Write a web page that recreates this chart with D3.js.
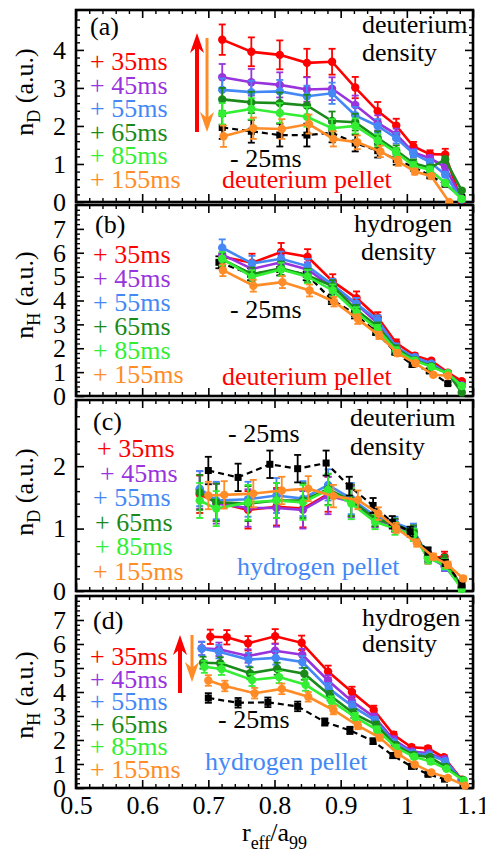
<!DOCTYPE html>
<html><head><meta charset="utf-8">
<script src="https://cdn.jsdelivr.net/npm/d3@7"></script>
<style>
body{margin:0;background:#fff}
</style>
</head><body>
<svg id="chart" width="485" height="857"></svg>
<script>
// ---------------- DATA ----------------
const seriesKeys   = ["m25","35","45","55","65","85","155"];
const legendLabels = ["+ 35ms","+ 45ms","+ 55ms","+ 65ms","+ 85ms","+ 155ms"];
const xTickLabels  = [0.5,0.6,0.7,0.8,0.9,1.0,1.1];

// Panel (a): deuterium density, deuterium pellet
const a_x   = [0.721,0.765,0.808,0.849,0.887,0.922,0.956,0.984,1.010,1.035,1.058,1.083];
const a_xOr = [0.723,0.768,0.811,0.852,0.889,0.925,0.960,0.987,1.012,1.037,1.064];
const a_m25 = [1.96,1.86,1.76,1.76,1.82,1.55,1.35,1.12,0.92,0.70,0.47,0.12];
const a_m25e= [0.30,0.30,0.30,0.30,0.25,0.22,0.18,0.14,0.10,0.08,0.06,0.04];
const a_35  = [4.27,3.95,3.87,3.66,3.69,3.01,2.39,2.01,1.46,1.26,1.25,0.00];
const a_35e = [0.40,0.38,0.38,0.37,0.34,0.28,0.24,0.18,0.12,0.10,0.15,0.04];
const a_45  = [3.28,3.15,3.08,2.96,2.98,2.55,2.08,1.78,1.30,1.15,0.92,0.08];
const a_45e = [0.35,0.35,0.33,0.32,0.30,0.25,0.20,0.15,0.10,0.08,0.08,0.04];
const a_55  = [2.95,2.89,2.91,2.78,2.86,2.28,2.00,1.68,1.27,1.05,0.72,0.06];
const a_55e = [0.30,0.30,0.30,0.28,0.28,0.22,0.18,0.14,0.10,0.08,0.07,0.04];
const a_65  = [2.70,2.62,2.60,2.54,2.13,2.10,1.68,1.35,1.02,0.90,1.12,0.30];
const a_65e = [0.30,0.28,0.28,0.28,0.25,0.22,0.18,0.14,0.10,0.08,0.08,0.04];
const a_85  = [2.32,2.45,2.34,2.24,1.94,2.00,1.62,1.30,0.95,0.85,0.50,0.08];
const a_85e = [0.28,0.28,0.26,0.26,0.24,0.20,0.16,0.12,0.10,0.08,0.06,0.04];
const a_155 = [1.73,1.94,1.92,2.05,1.66,1.57,1.33,1.07,0.80,0.68,0.00];
const a_155e= [0.28,0.28,0.26,0.25,0.20,0.18,0.15,0.12,0.08,0.06,0.03];

// Panel (b): hydrogen density, deuterium pellet
const b_x   = [0.721,0.766,0.810,0.850,0.888,0.924,0.956,0.984,1.012,1.037,1.062,1.083];
const b_xOr = [0.722,0.768,0.812,0.853,0.890,0.926,0.958,0.986,1.013,1.040,1.062];
const b_xBk = [0.716,0.764,0.808,0.848,0.886,0.921,0.953,0.982,1.008,1.034,1.062];
const b_m25 = [5.60,5.10,5.30,5.10,4.05,3.45,2.70,1.85,1.32,1.05,0.52];
const b_m25e= [0.25,0.25,0.25,0.25,0.20,0.20,0.15,0.12,0.10,0.08,0.06];
const b_35  = [5.83,5.58,6.03,5.83,4.80,4.10,3.29,2.22,1.69,1.48,0.98,0.62];
const b_35e = [0.35,0.38,0.38,0.32,0.30,0.28,0.22,0.15,0.10,0.08,0.06,0.05];
const b_45  = [5.92,5.32,5.60,5.30,4.55,3.85,3.05,2.02,1.60,1.35,0.95,0.45];
const b_45e = [0.30,0.30,0.30,0.30,0.25,0.25,0.20,0.15,0.10,0.08,0.06,0.05];
const b_55  = [6.21,5.55,5.75,5.44,4.66,3.86,3.18,2.05,1.62,1.35,0.92,0.42];
const b_55e = [0.35,0.32,0.30,0.30,0.25,0.25,0.20,0.15,0.10,0.08,0.06,0.05];
const b_65  = [5.72,5.10,5.35,5.05,4.60,3.60,2.90,1.98,1.50,1.25,0.95,0.15];
const b_65e = [0.28,0.28,0.28,0.28,0.25,0.22,0.18,0.14,0.10,0.08,0.06,0.05];
const b_85  = [5.75,4.99,5.30,5.00,4.42,3.50,2.80,1.90,1.48,1.22,0.95,0.42];
const b_85e = [0.28,0.28,0.28,0.28,0.25,0.22,0.18,0.14,0.10,0.08,0.06,0.05];
const b_155 = [5.27,4.62,4.77,4.42,3.95,3.22,2.54,1.79,1.37,0.89,0.85];
const b_155e= [0.25,0.25,0.25,0.25,0.20,0.20,0.15,0.12,0.10,0.08,0.06];

// Panel (c): deuterium density, hydrogen pellet
const c_x   = [0.687,0.712,0.760,0.803,0.843,0.881,0.916,0.952,0.982,1.010,1.032,1.057,1.083];
const c_xOr = [0.700,0.724,0.768,0.811,0.851,0.889,0.926,0.957,0.984,1.015,1.040,1.062,1.085];
const c_xBk = [0.700,0.745,0.793,0.835,0.878,0.913,0.949,0.978,1.005,1.032,1.058,1.083];
const c_m25 = [1.93,1.82,2.03,1.96,2.05,1.68,1.37,1.10,0.95,0.64,0.45,0.10];
const c_m25e= [0.22,0.22,0.22,0.22,0.20,0.15,0.12,0.10,0.08,0.06,0.05,0.04];
const c_35  = [1.55,1.42,1.30,1.35,1.32,1.55,1.45,1.15,1.05,0.95,0.52,0.55,0.05];
const c_35e = [0.30,0.30,0.30,0.30,0.30,0.28,0.25,0.12,0.10,0.10,0.08,0.08,0.04];
const c_45  = [1.62,1.40,1.33,1.33,1.30,1.53,1.43,1.14,1.05,0.93,0.55,0.40,0.06];
const c_45e = [0.30,0.32,0.30,0.30,0.30,0.30,0.25,0.12,0.10,0.10,0.08,0.08,0.04];
const c_55  = [1.64,1.45,1.47,1.53,1.48,1.70,1.48,1.20,1.09,0.98,0.55,0.41,0.08];
const c_55e = [0.28,0.30,0.28,0.28,0.28,0.25,0.25,0.12,0.10,0.10,0.08,0.08,0.04];
const c_65  = [1.58,1.42,1.40,1.45,1.45,1.63,1.45,1.16,1.06,0.95,0.55,0.50,0.06];
const c_65e = [0.28,0.30,0.28,0.28,0.28,0.25,0.25,0.12,0.10,0.10,0.08,0.08,0.04];
const c_85  = [1.45,1.32,1.42,1.45,1.42,1.62,1.40,1.11,1.00,0.90,0.52,0.43,0.03];
const c_85e = [0.28,0.28,0.28,0.28,0.28,0.25,0.25,0.12,0.10,0.10,0.08,0.08,0.04];
const c_155 = [1.53,1.54,1.56,1.61,1.64,1.52,1.46,1.24,1.01,0.77,0.55,0.42,0.20];
const c_155e= [0.22,0.22,0.22,0.22,0.20,0.18,0.15,0.10,0.08,0.06,0.05,0.05,0.04];

// Panel (d): hydrogen density, hydrogen pellet
const d_xR  = [0.703,0.728,0.760,0.801,0.841,0.881,0.917,0.950,0.980,1.007,1.032,1.056,1.083];
const d_xP  = [0.690,0.716,0.760,0.801,0.842,0.881,0.917,0.951,0.980,1.008,1.033,1.057,1.083];
const d_xB  = [0.690,0.716,0.761,0.802,0.842,0.882,0.918,0.952,0.981,1.009,1.034,1.058,1.084];
const d_xG  = [0.692,0.718,0.763,0.804,0.845,0.884,0.920,0.954,0.983,1.010,1.035,1.059,1.085];
const d_xL  = [0.694,0.720,0.766,0.807,0.847,0.886,0.922,0.955,0.984,1.011,1.036,1.060,1.086];
const d_xOr = [0.700,0.725,0.770,0.811,0.851,0.889,0.926,0.959,0.987,1.012,1.037,1.062,1.088];
const d_xBk = [0.700,0.745,0.790,0.835,0.876,0.914,0.949,0.979,1.007,1.032,1.057];
const d_m25 = [3.75,3.55,3.57,3.40,2.75,2.40,1.95,1.35,0.90,0.57,0.37];
const d_m25e= [0.20,0.20,0.20,0.20,0.15,0.15,0.12,0.10,0.08,0.06,0.05];
const d_35  = [6.30,6.28,6.03,6.32,6.05,4.85,4.00,3.25,2.22,1.70,1.65,1.28,0.35];
const d_35e = [0.30,0.30,0.30,0.30,0.30,0.25,0.22,0.18,0.12,0.10,0.10,0.08,0.05];
const d_45  = [5.82,5.78,5.50,5.72,5.55,4.48,3.62,2.95,2.02,1.52,1.45,1.20,0.32];
const d_45e = [0.28,0.28,0.28,0.28,0.25,0.22,0.20,0.15,0.12,0.10,0.10,0.08,0.05];
const d_55  = [5.80,5.68,5.35,5.42,5.25,4.15,3.40,2.82,1.90,1.45,1.38,1.12,0.30];
const d_55e = [0.28,0.28,0.28,0.28,0.25,0.22,0.20,0.15,0.12,0.10,0.10,0.08,0.05];
const d_65  = [5.22,5.20,4.78,4.97,4.76,3.85,3.10,2.62,1.78,1.38,1.28,0.88,0.34];
const d_65e = [0.25,0.25,0.25,0.25,0.25,0.20,0.18,0.15,0.12,0.10,0.10,0.08,0.05];
const d_85  = [5.05,4.96,4.50,4.62,4.30,3.62,2.95,2.42,1.68,1.30,1.10,0.80,0.30];
const d_85e = [0.25,0.25,0.25,0.25,0.25,0.20,0.18,0.15,0.12,0.10,0.10,0.08,0.05];
const d_155 = [4.48,4.25,3.95,4.13,3.80,3.25,2.60,2.10,1.42,0.98,0.65,0.42,0.10];
const d_155e= [0.22,0.22,0.22,0.22,0.20,0.18,0.15,0.12,0.10,0.08,0.06,0.05,0.04];

// ---------------- STYLE ----------------
const FONT = "Liberation Serif";
const colorOf = {m25:"#000000","35":"#ff0000","45":"#9933dd","55":"#4488f5","65":"#1a8a1a","85":"#33ee33","155":"#ff8c26"};
const legendColors = ["#ff0000","#9933dd","#4488f5","#1a8a1a","#33ee33","#ff8c26"];

const panels = [
  {id:"(a)", top:10, bottom:202, ymax:5.05, majors:[0,1,2,3,4],
   series:[[a_x,a_m25,a_m25e,"m25"],[a_x,a_35,a_35e,"35"],[a_x,a_45,a_45e,"45"],[a_x,a_55,a_55e,"55"],[a_x,a_65,a_65e,"65"],[a_x,a_85,a_85e,"85"],[a_xOr,a_155,a_155e,"155"]],
   ylab:"D", ylabY:92, letter:[90,35], dens:["deuterium",362,33,"density",362,61],
   legX:[90,90,90,90,90,90], legY0:70, legDy:23.6, m25:[230,167], pellet:["deuterium pellet","#ff0000",222,188],
   arrows:[{x:197,y1:132,y2:33,c:"#ff0000",w:4},{x:207,y1:38,y2:132,c:"#ff8c26",w:3}]},
  {id:"(b)", top:205, bottom:396, ymax:8, majors:[0,1,2,3,4,5,6,7],
   series:[[b_xBk,b_m25,b_m25e,"m25"],[b_x,b_35,b_35e,"35"],[b_x,b_45,b_45e,"45"],[b_x,b_55,b_55e,"55"],[b_x,b_65,b_65e,"65"],[b_x,b_85,b_85e,"85"],[b_xOr,b_155,b_155e,"155"]],
   ylab:"H", ylabY:295, letter:[95,233], dens:["hydrogen",354,232,"density",361,260],
   legX:[93,93,93,93,93,93], legY0:263, legDy:24, m25:[230,318], pellet:["deuterium pellet","#ff0000",222,385],
   arrows:[]},
  {id:"(c)", top:400, bottom:591, ymax:3.06, majors:[0,1,2],
   series:[[c_x,c_35,c_35e,"35"],[c_x,c_45,c_45e,"45"],[c_x,c_55,c_55e,"55"],[c_x,c_65,c_65e,"65"],[c_x,c_85,c_85e,"85"],[c_xBk,c_m25,c_m25e,"m25"],[c_xOr,c_155,c_155e,"155"]],
   ylab:"D", ylabY:492, letter:[93,430], dens:["deuterium",350,426,"density",350,455],
   legX:[97,100,93,95,95,93], legY0:457, legDy:24.6, m25:[228,442], pellet:["hydrogen pellet","#4488f5",237,575],
   arrows:[]},
  {id:"(d)", top:596, bottom:788, ymax:8, majors:[0,1,2,3,4,5,6,7],
   series:[[d_xBk,d_m25,d_m25e,"m25"],[d_xR,d_35,d_35e,"35"],[d_xP,d_45,d_45e,"45"],[d_xB,d_55,d_55e,"55"],[d_xG,d_65,d_65e,"65"],[d_xL,d_85,d_85e,"85"],[d_xOr,d_155,d_155e,"155"]],
   ylab:"H", ylabY:695, letter:[93,629], dens:["hydrogen",362,626,"density",362,652],
   legX:[90,90,90,90,90,90], legY0:665, legDy:22.6, m25:[218,728], pellet:["hydrogen pellet","#4488f5",205,770],
   arrows:[{x:180,y1:693,y2:635,c:"#ff0000",w:4},{x:192,y1:635,y2:682,c:"#ff8c26",w:3}]}
];

// ---------------- DRAW ----------------
const svg = d3.select("#chart");
const L = 76, R = 473, FS = 26;
const x = d3.scaleLinear().domain([0.5,1.1]).range([L,R]);

function txt(parent, xx, yy, s, fill) {
  return parent.append("text").attr("x",xx).attr("y",yy)
    .attr("font-family",FONT).attr("font-size",FS).attr("fill",fill || "#000").text(s);
}

panels.forEach((p, pi) => {
  const y = d3.scaleLinear().domain([0,p.ymax]).range([p.bottom,p.top]);
  const g = svg.append("g");
  const minors = d3.range(0, p.ymax, 0.2).filter(v => Math.abs(v - Math.round(v)) > 1e-6);
  const xMinors = d3.range(0.5, 1.1001, 0.02).filter(v => Math.abs(v*10 - Math.round(v*10)) > 1e-6);

  const axisStyle = sel => {
    sel.attr("font-family",FONT).attr("font-size",FS);
    sel.select(".domain").remove();
    sel.selectAll("text").attr("font-family",FONT).attr("font-size",FS).attr("fill","#000");
  };
  g.append("g").attr("transform",`translate(${L},0)`)
    .call(d3.axisLeft(y).tickValues(p.majors).tickSize(-8).tickPadding(10).tickFormat(d3.format("d")))
    .call(axisStyle).selectAll("line").attr("stroke-width",1.6);
  g.append("g").attr("transform",`translate(${L},0)`)
    .call(d3.axisLeft(y).tickValues(minors).tickSize(-4).tickFormat(""))
    .call(axisStyle).selectAll("line").attr("stroke-width",1.4);
  g.append("g").attr("transform",`translate(${R},0)`)
    .call(d3.axisRight(y).tickValues(p.majors).tickSize(-8).tickFormat(""))
    .call(axisStyle).selectAll("line").attr("stroke-width",1.6);
  g.append("g").attr("transform",`translate(${R},0)`)
    .call(d3.axisRight(y).tickValues(minors).tickSize(-4).tickFormat(""))
    .call(axisStyle).selectAll("line").attr("stroke-width",1.4);
  const isLast = pi === panels.length-1;
  g.append("g").attr("transform",`translate(0,${p.bottom})`)
    .call(d3.axisBottom(x).tickValues(xTickLabels).tickSize(-8).tickPadding(8)
      .tickFormat(isLast ? (d => d3.format("~g")(d)) : ""))
    .call(axisStyle).selectAll("line").attr("stroke-width",1.6);
  g.append("g").attr("transform",`translate(0,${p.bottom})`)
    .call(d3.axisBottom(x).tickValues(xMinors).tickSize(-4).tickFormat(""))
    .call(axisStyle).selectAll("line").attr("stroke-width",1.4);
  g.append("g").attr("transform",`translate(0,${p.top})`)
    .call(d3.axisTop(x).tickValues(xTickLabels).tickSize(-8).tickFormat(""))
    .call(axisStyle).selectAll("line").attr("stroke-width",1.6);
  g.append("g").attr("transform",`translate(0,${p.top})`)
    .call(d3.axisTop(x).tickValues(xMinors).tickSize(-4).tickFormat(""))
    .call(axisStyle).selectAll("line").attr("stroke-width",1.4);

  g.append("rect").attr("x",L).attr("y",p.top).attr("width",R-L).attr("height",p.bottom-p.top)
    .attr("fill","none").attr("stroke","#000").attr("stroke-width",2.6);

  const line = d3.line().x(d => x(d[0])).y(d => y(d[1]));
  p.series.forEach(([xs, ys, es, key]) => {
    const col = colorOf[key];
    const pts = xs.map((xv,i) => [xv, ys[i], es[i]]);
    const sg = g.append("g");
    pts.forEach(d => {
      const cx = x(d[0]), y1 = y(d[1]-d[2]), y2 = y(d[1]+d[2]);
      sg.append("line").attr("x1",cx).attr("x2",cx).attr("y1",y1).attr("y2",y2).attr("stroke",col).attr("stroke-width",1.8);
      [y1,y2].forEach(yy => sg.append("line").attr("x1",cx-3.5).attr("x2",cx+3.5).attr("y1",yy).attr("y2",yy).attr("stroke",col).attr("stroke-width",1.8));
    });
    sg.append("path").datum(pts).attr("d",line).attr("fill","none").attr("stroke",col)
      .attr("stroke-width", key==="m25" ? 2.2 : 2.6)
      .attr("stroke-dasharray", key==="m25" ? "6,4" : null);
    if (key === "m25") {
      sg.selectAll("rect.m").data(pts).enter().append("rect")
        .attr("x",d => x(d[0])-3.5).attr("y",d => y(d[1])-3.5).attr("width",7).attr("height",7).attr("fill",col);
    } else {
      sg.selectAll("circle").data(pts).enter().append("circle")
        .attr("cx",d => x(d[0])).attr("cy",d => y(d[1])).attr("r",4.2).attr("fill",col);
    }
  });

  p.arrows.forEach(a => {
    const dir = a.y2 < a.y1 ? -1 : 1;
    const headL = 20, headW = 7;
    g.append("line").attr("x1",a.x).attr("x2",a.x).attr("y1",a.y1).attr("y2",a.y2 - dir*headL*0.6)
      .attr("stroke",a.c).attr("stroke-width",a.w);
    g.append("path").attr("d",`M${a.x},${a.y2} L${a.x-headW},${a.y2-dir*headL} L${a.x},${a.y2-dir*headL*0.7} L${a.x+headW},${a.y2-dir*headL} Z`)
      .attr("fill",a.c);
  });

  const yt = svg.append("text").attr("transform",`translate(33,${p.ylabY}) rotate(-90)`)
    .attr("text-anchor","middle").attr("font-family",FONT).attr("font-size",FS).attr("fill","#000");
  yt.append("tspan").text("n");
  yt.append("tspan").attr("dy",7).attr("font-size",18).text(p.ylab);
  yt.append("tspan").attr("dy",-7).text(" (a.u.)");

  txt(svg, p.letter[0], p.letter[1], p.id);
  txt(svg, p.dens[1], p.dens[2], p.dens[0]);
  txt(svg, p.dens[4], p.dens[5], p.dens[3]);
  legendLabels.forEach((t,i) => txt(svg, p.legX[i], p.legY0 + i*p.legDy, t, legendColors[i]));
  txt(svg, p.m25[0], p.m25[1], "- 25ms");
  txt(svg, p.pellet[2], p.pellet[3], p.pellet[0], p.pellet[1]);
});

const xt = svg.append("text").attr("x",(L+R)/2).attr("y",841).attr("text-anchor","middle")
  .attr("font-family",FONT).attr("font-size",FS);
xt.append("tspan").text("r");
xt.append("tspan").attr("dy",8).attr("font-size",18).text("eff");
xt.append("tspan").attr("dy",-8).text("/a");
xt.append("tspan").attr("dy",8).attr("font-size",18).text("99");
</script>
</body></html>
